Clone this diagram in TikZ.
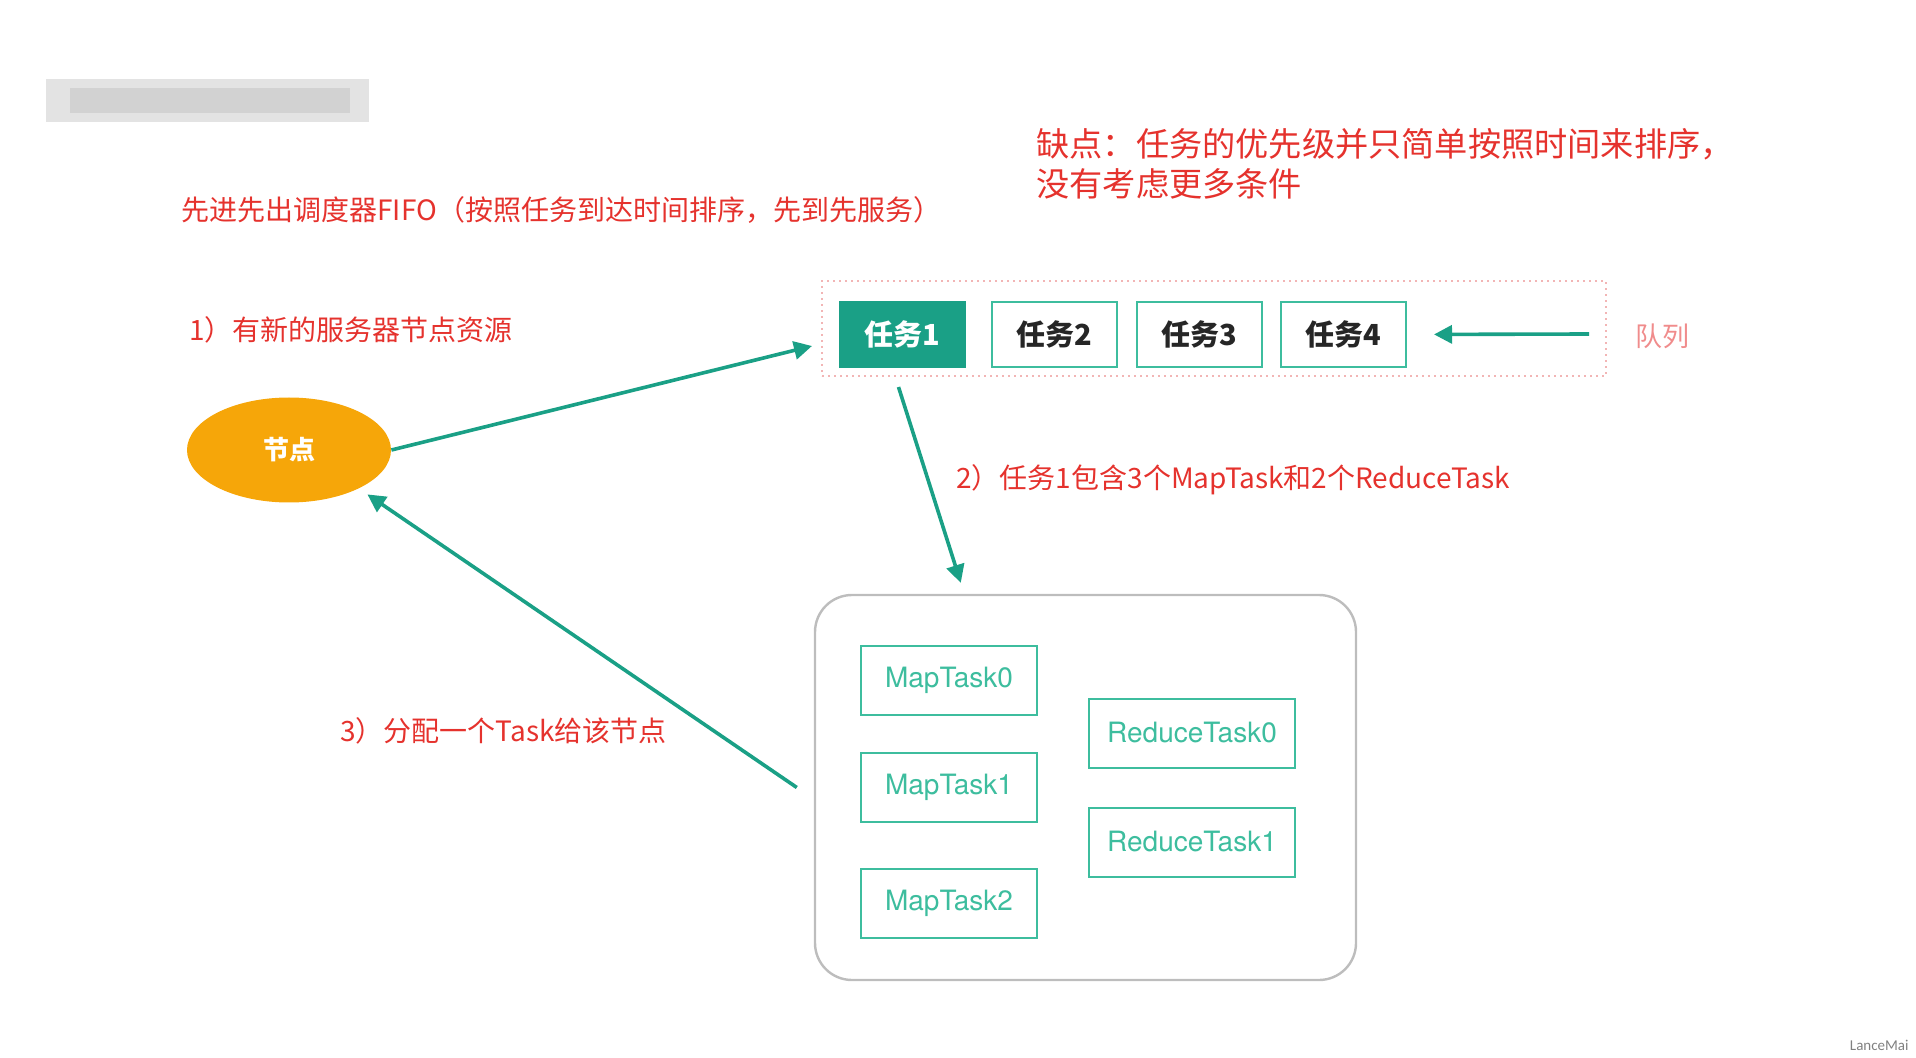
\documentclass[tikz,border=0pt]{standalone}
\usepackage{fontspec}
\setmainfont{Noto Sans CJK SC}
\newfontfamily\heros{TeX Gyre Heros}
\newfontfamily\carlito{Carlito}
\usetikzlibrary{arrows.meta,positioning,calc,shapes.geometric}
\definecolor{Teal}{HTML}{1AA086}
\definecolor{TealLine}{HTML}{3DBD9E}
\definecolor{Alert}{HTML}{E5322D}
\definecolor{Salmon}{HTML}{F08C8C}
\definecolor{Orange}{HTML}{F6A609}
\definecolor{Frame}{HTML}{BDBDBD}
\definecolor{Dots}{HTML}{F2B5B5}
\tikzset{
  arr/.style={-{Triangle[length=9pt,width=9pt]},line width=1.8pt,draw=Teal,fill=Teal},
  taskbox/.style={draw=TealLine,line width=1pt,fill=white,minimum width=62.5pt,minimum height=32.5pt,font=\fontsize{14.5}{16}\selectfont\bfseries,text=black!85},
  mapbox/.style={draw=TealLine,line width=1pt,minimum width=88pt,minimum height=34.5pt,font=\heros\fontsize{14}{16}\selectfont,text=TealLine},
  redtxt/.style={anchor=west,inner sep=0pt,text=Alert,font=\fontsize{14}{16}\selectfont}
}
\begin{document}
\begin{tikzpicture}[x=0.5pt,y=-0.5pt]
  \useasboundingbox (0,0) rectangle (1916,1058);
  % blurred header
  \fill[gray!22] (46,79) rectangle (369,122);
  \fill[gray!35] (70,88) rectangle (350,113);
  % texts
  \node[redtxt] (fifo) at (181,210) {先进先出调度器FIFO（按照任务到达时间排序，先到先服务）};
  \node[redtxt,font=\fontsize{16.6}{20}\selectfont,align=left,anchor=north west] (flaw) at (1036,128) {缺点：任务的优先级并只简单按照时间来排序，\\没有考虑更多条件};
  \node[redtxt] (step1) at (189,330) {1）有新的服务器节点资源};
  \node[redtxt] (step2) at (956,480) {2）任务1包含3个MapTask和2个ReduceTask};
  \node[redtxt] (step3) at (340,731) {3）分配一个Task给该节点};
  % queue
  \node[draw=Dots,dotted,line width=1pt,minimum width=392pt,minimum height=47.5pt] (queue) at (1214,328.5) {};
  \node[taskbox,fill=Teal,draw=Teal,text=white] (t1) at (902.5,334.5) {任务1};
  \node[taskbox,right=12.5pt of t1] (t2) {任务2};
  \node[taskbox,right=9pt of t2] (t3) {任务3};
  \node[taskbox,right=8.5pt of t3] (t4) {任务4};
  \coordinate (qin) at (1589,334);
  \draw[arr,shorten >=13.5pt] (qin) -- (t4.east);
  \node[anchor=west,inner sep=0pt,text=Salmon,font=\fontsize{13.5}{15}\selectfont] (qlabel) at (1635,336) {队列};
  % node
  \node[ellipse,fill=Orange,minimum width=102pt,minimum height=52.5pt,text=white,font=\fontsize{13}{15}\selectfont\bfseries] (worker) at (289,450) {节点};
  % tasks of job 1
  \node[draw=Frame,line width=1.2pt,rounded corners=18.5pt,minimum width=270.5pt,minimum height=192.5pt] (tasks) at (1085.5,787.5) {};
  \node[mapbox] (m0) at (949,680) {MapTask0};
  \node[mapbox,below=18pt of m0] (m1) {MapTask1};
  \node[mapbox,below=22.5pt of m1] (m2) {MapTask2};
  \node[mapbox,minimum width=103pt] (r0) at (1192,733) {ReduceTask0};
  \node[mapbox,minimum width=103pt,below=19pt of r0] (r1) {ReduceTask1};
  % arrows
  \draw[arr] (worker.east) -- ($(queue.west)+(-9,17.5)$);
  \draw[arr] ($(t1.south)+(-4,19)$) -- ($(tasks.north west)+(147,-11)$);
  \draw[arr] ($(tasks.west)+(-17,0)$) -- ($(worker.south east)+(6,7)$);
  \node[anchor=east,inner sep=0pt,text=gray,font=\carlito\fontsize{7.5}{9}\selectfont] (mark) at (1909,1045) {LanceMai};
\end{tikzpicture}
\end{document}
